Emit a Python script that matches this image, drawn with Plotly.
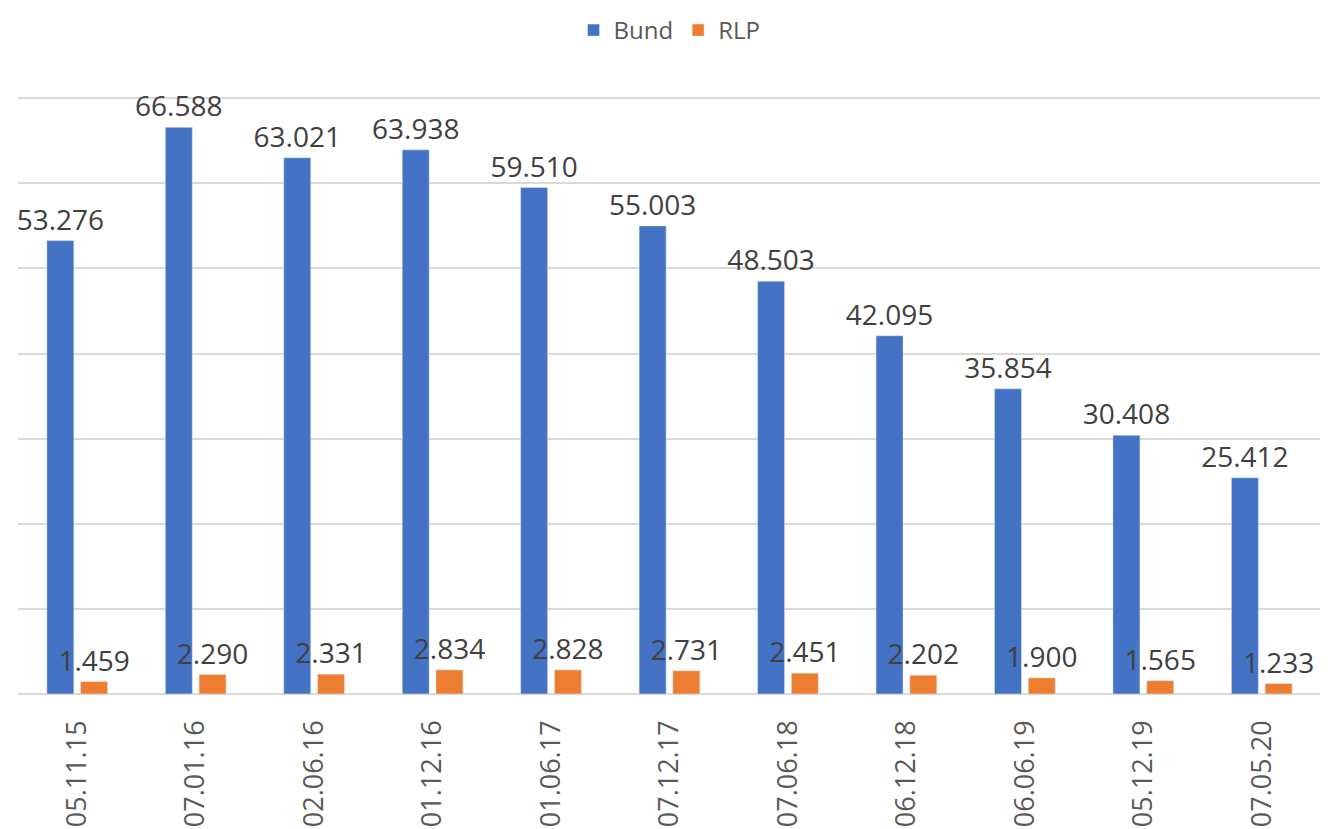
import plotly.graph_objects as go

dates = ["05.11.15", "07.01.16", "02.06.16", "01.12.16", "01.06.17", "07.12.17",
         "07.06.18", "06.12.18", "06.06.19", "05.12.19", "07.05.20"]
bund = [53276, 66588, 63021, 63938, 59510, 55003, 48503, 42095, 35854, 30408, 25412]
rlp = [1459, 2290, 2331, 2834, 2828, 2731, 2451, 2202, 1900, 1565, 1233]

LABEL_FONT = dict(family="Open Sans", size=28, color="#404040")

fig = go.Figure()
fig.add_trace(go.Bar(
    name="Bund", x=dates, y=bund, marker_color="#4472C4",
    texttemplate="%{y:,}", textposition="outside", textfont=LABEL_FONT,
    cliponaxis=False,
))
fig.add_trace(go.Bar(
    name="RLP", x=dates, y=rlp, marker_color="#ED7D31",
    texttemplate="%{y:,}", textposition="outside", textfont=LABEL_FONT,
    cliponaxis=False,
))

# page body has an 8px margin, so the figure is sized to fit inside the window
fig.update_layout(
    width=1320, height=821,
    barmode="group", bargap=0.43, bargroupgap=0.2,
    separators=",.",
    uniformtext=dict(minsize=28, mode="show"),
    plot_bgcolor="white", paper_bgcolor="white",
    margin=dict(l=10, r=7, t=86, b=135, autoexpand=False),
    legend=dict(orientation="h", x=0.5, xanchor="center", y=1.0, yref="container",
                yanchor="top", font=dict(family="Open Sans", size=24, color="#595959"),
                itemwidth=30, tracegroupgap=0),
    xaxis=dict(tickangle=-90, tickfont=dict(family="Open Sans", size=27, color="#595959"),
               showline=False, ticks="", ticklabelstandoff=20, automargin=False),
    yaxis=dict(range=[0, 70500], dtick=10000, showticklabels=False, automargin=False,
               gridcolor="#D9D9D9", gridwidth=1.5, zeroline=True,
               zerolinecolor="#D9D9D9", zerolinewidth=2),
)

fig.write_html("out.html")
